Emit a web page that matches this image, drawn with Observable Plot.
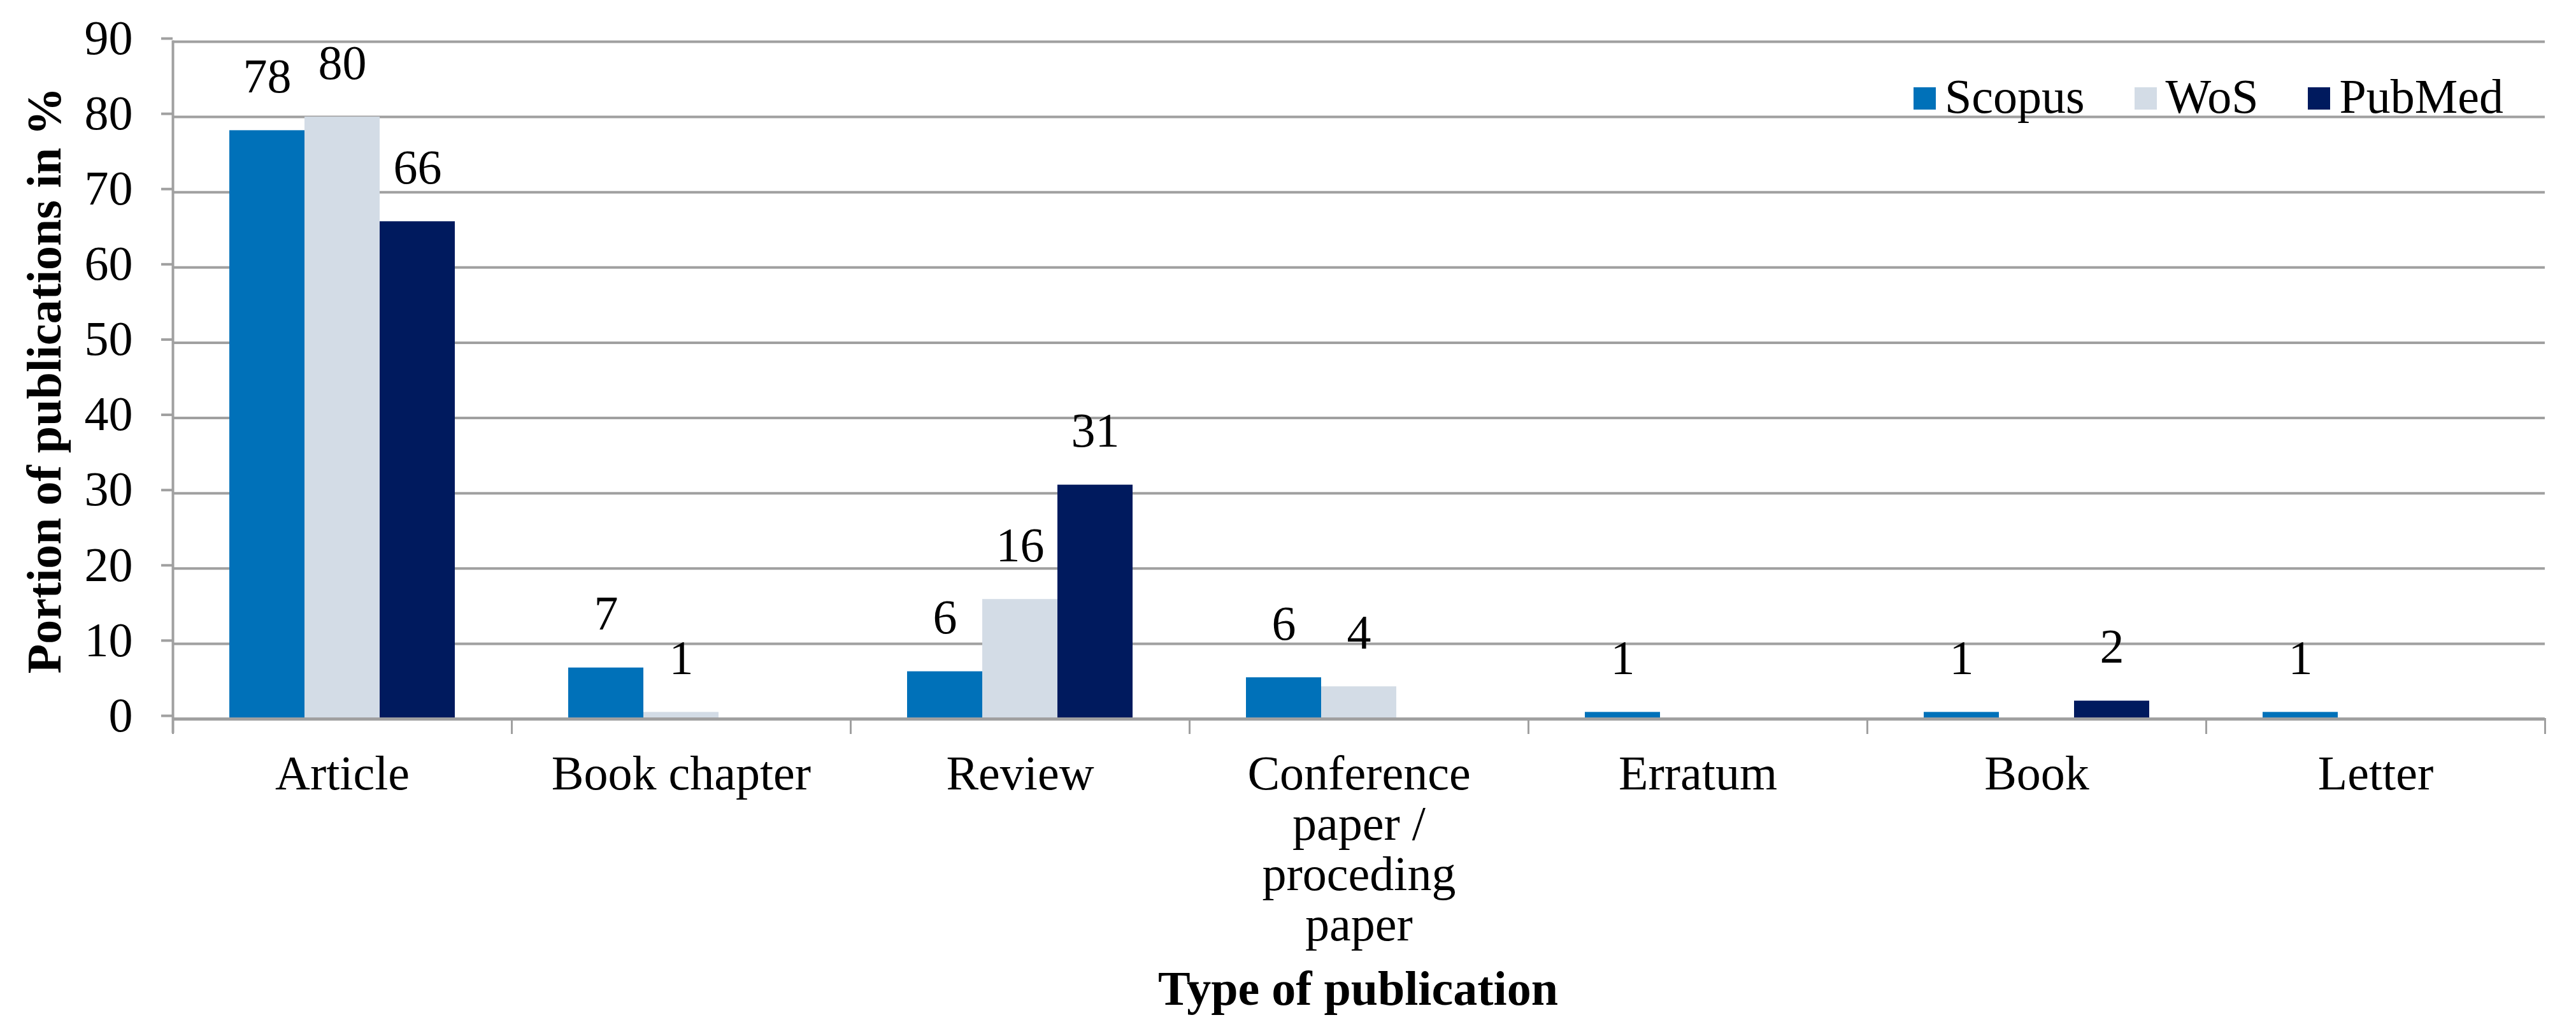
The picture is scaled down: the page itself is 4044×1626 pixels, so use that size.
<!DOCTYPE html>
<html>
<head>
<meta charset="utf-8">
<script src="https://cdn.jsdelivr.net/npm/d3@7"></script>
<script src="https://cdn.jsdelivr.net/npm/@observablehq/plot@0.6"></script>
<style>
  html, body { margin: 0; padding: 0; background: #fff; }
  #wrap { position: relative; width: 4044px; height: 1626px; font-family: "Liberation Serif", serif; color: #000; overflow: hidden; }
  #chart svg { display: block; }
  .ytitle { position: absolute; left: 69px; top: 597px; transform: translate(-50%, -50%) rotate(-90deg); white-space: nowrap; font-weight: bold; font-size: 76px; line-height: 76px; }
  .xtitle { position: absolute; left: 2132px; top: 1513px; transform: translateX(-50%); white-space: nowrap; font-weight: bold; font-size: 76px; line-height: 76px; }
  #legend { position: absolute; right: 114px; top: 113px; display: flex; align-items: center; gap: 78px; font-size: 76px; line-height: 76px; }
  .item { display: flex; align-items: center; }
  .sw { width: 35px; height: 35px; margin-right: 14px; margin-top: 6px; }
</style>
</head>
<body>
<div id="wrap">
  <div id="chart"></div>
  <div class="ytitle">Portion of publications in %</div>
  <div class="xtitle">Type of publication</div>
  <div id="legend"></div>
</div>
<script>
// ---- Data ----
const categories = ["Article", "Book chapter", "Review", "Conference paper / proceding paper", "Erratum", "Book", "Letter"];
const tickLabels = ["Article", "Book chapter", "Review", "Conference\npaper /\nproceding\npaper", "Erratum", "Book", "Letter"];
const seriesNames = ["Scopus", "WoS", "PubMed"];
const scopus = [78.2, 6.8, 6.3, 5.5, 0.9, 0.9, 0.9];
const wos    = [80.0, 0.9, 15.9, 4.3, null, null, null];
const pubmed = [66.1, null, 31.1, null, null, 2.4, null];
const colors = ["#0071B9", "#D3DCE6", "#001A5E"];
const yTicks = [0, 10, 20, 30, 40, 50, 60, 70, 80, 90];

// ---- Table ----
const valuesBySeries = [scopus, wos, pubmed];
const rows = [];
categories.forEach((c, i) => {
  seriesNames.forEach((s, j) => {
    const v = valuesBySeries[j][i];
    if (v != null) rows.push({category: c, series: s, value: v});
  });
});

// ---- Layout ----
const W = 4044, H = 1626, ML = 270, MR = 49, MT = 65, MB = 498;
const PH = H - MT - MB;
const grey = "#a0a0a0";
const FONT = "Liberation Serif, serif";

const chart = Plot.plot({
  width: W, height: H,
  marginLeft: ML, marginRight: MR, marginTop: MT, marginBottom: MB,
  style: {fontFamily: FONT, fontSize: "76px", color: "#000", background: "#fff", overflow: "visible"},
  fx: {domain: categories, paddingInner: 0, paddingOuter: 0, axis: null, label: null},
  x: {domain: seriesNames, paddingInner: 0, paddingOuter: 0.75, axis: null, label: null},
  y: {domain: [0, 90], axis: null, label: null},
  color: {domain: seriesNames, range: colors},
  marks: [
    Plot.gridY(yTicks, {stroke: grey, strokeWidth: 4, strokeOpacity: 1}),
    Plot.barY(rows, {fx: "category", x: "series", y: "value", fill: "series"}),
    Plot.text(rows, {fx: "category", x: "series", y: "value", text: d => String(Math.round(d.value)),
      lineAnchor: "bottom", dy: -60, fill: "#000", fontSize: 76}),
    Plot.ruleY([0], {stroke: grey, strokeWidth: 5}),
    Plot.frame({anchor: "left", insetTop: PH, insetBottom: -22, stroke: grey, strokeWidth: 3}),
    Plot.frame({anchor: "right", insetTop: PH, insetBottom: -22, stroke: grey, strokeWidth: 3}),
    Plot.frame({anchor: "left", fx: categories[0], insetBottom: -20, stroke: grey, strokeWidth: 4}),
    Plot.axisY(yTicks, {anchor: "left", tickSize: 18, tickPadding: 45, stroke: grey, strokeWidth: 4,
      fill: "#000", fontSize: 76, dy: -5, label: null, tickFormat: d => String(d)}),
    Plot.axisFx({anchor: "bottom", tickSize: 0, tickPadding: 54, label: null, fill: "#000", fontSize: 76,
      lineHeight: 1.04, tickFormat: d => tickLabels[categories.indexOf(d)]})
  ]
});
document.getElementById("chart").appendChild(chart);

// ---- Legend ----
const legend = document.getElementById("legend");
seriesNames.forEach((s, i) => {
  const item = document.createElement("div");
  item.className = "item";
  const sw = document.createElement("div");
  sw.className = "sw";
  sw.style.background = colors[i];
  const t = document.createElement("span");
  t.textContent = s;
  item.appendChild(sw);
  item.appendChild(t);
  legend.appendChild(item);
});
</script>
</body>
</html>
